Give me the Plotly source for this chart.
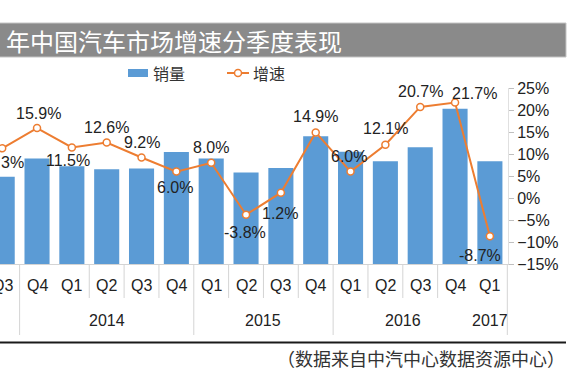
import plotly.graph_objects as go

# ---------------- data ----------------
quarters = ["Q3", "Q4", "Q1", "Q2", "Q3", "Q4", "Q1", "Q2", "Q3", "Q4",
            "Q1", "Q2", "Q3", "Q4", "Q1"]
years = ["2013", "2014", "2015", "2016", "2017"]
year_centers = [-0.45, 3, 7.5, 11.5, 14]          # category index of year label centre
year_dividers = [0.5, 5.5, 9.5, 14.5]
quarter_dividers = [2.5, 3.5, 4.5, 6.5, 7.5, 8.5, 10.5, 11.5, 12.5]

sales = [124, 150, 139, 134.5, 135.5, 159, 150, 130, 136.5, 181.5,
         159.5, 146, 166, 220.5, 146]               # 销量
growth = [11.3, 15.9, 11.5, 12.6, 9.2, 6.0, 8.0, -3.8, 1.2, 14.9,
          6.0, 12.1, 20.7, 21.7, -8.7]              # 增速 (%)

# label offsets in pixels (dx, dy; dy positive = up)
label_offsets = [(0, -14), (1, 15), (-4, -13), (0, 15), (0, 15), (-1, -16),
                 (0, 15), (-1, -18), (-1, -21), (0, 16), (-2, 15), (0, 16),
                 (0, 15), (19, 9), (-10, -19)]

title_text = "年中国汽车市场增速分季度表现"
source_text = "（数据来自中汽中心数据资源中心）"

# ---------------- geometry helpers ----------------
W, H = 570, 380
PL, PT, PW, PH = 0, 88, 508, 176


def xp(px):
    return (px - PL) / PW


def yp(py):
    return (PT + PH - py) / PH


BLUE = "#5B9BD5"
ORANGE = "#ED7D31"
NUM_FONT = "Liberation Sans, Arial, Noto Sans CJK SC, sans-serif"
CJK_FONT = "Noto Sans CJK SC, Liberation Sans, sans-serif"
TXT = "#222222"

idx = list(range(len(quarters)))

fig = go.Figure()
fig.add_trace(go.Bar(x=idx, y=sales, width=0.72, marker=dict(color=BLUE, line=dict(width=0)),
                     name="销量", showlegend=False, yaxis="y"))
fig.add_trace(go.Scatter(x=idx, y=growth, mode="lines+markers", name="增速", showlegend=False,
                         line=dict(color=ORANGE, width=2),
                         marker=dict(size=7, color="white", line=dict(color=ORANGE, width=1.5)),
                         yaxis="y2", cliponaxis=False))

ann = []
# data labels
for i, (v, (dx, dy)) in enumerate(zip(growth, label_offsets)):
    ann.append(dict(x=i, y=v, xref="x", yref="y2", text=f"{v:.1f}%", showarrow=False,
                    xshift=dx, yshift=dy, font=dict(family=NUM_FONT, size=16, color=TXT)))
# quarter labels
for i, q in enumerate(quarters):
    ann.append(dict(x=i, y=yp(285.5), xref="x", yref="paper", text=q, showarrow=False,
                    yanchor="middle", font=dict(family=NUM_FONT, size=16, color=TXT)))
# year labels
for yc, ytxt in zip(year_centers, years):
    ann.append(dict(x=yc, y=yp(320.5), xref="x", yref="paper", text=ytxt, showarrow=False,
                    yanchor="middle", font=dict(family=NUM_FONT, size=16, color=TXT)))
# title
ann.append(dict(x=xp(4), y=yp(40), xref="paper", yref="paper", text=title_text, showarrow=False,
                xanchor="left", yanchor="middle", font=dict(family=CJK_FONT, size=24, color="white")))
# source
ann.append(dict(x=xp(567), y=yp(358), xref="paper", yref="paper", text=source_text, showarrow=False,
                xanchor="right", yanchor="middle", font=dict(family=CJK_FONT, size=18, color="#333333")))
# legend texts
ann.append(dict(x=xp(151), y=yp(73), xref="paper", yref="paper", text="销量", showarrow=False,
                xanchor="left", yanchor="middle", font=dict(family=CJK_FONT, size=16, color="#333333")))
ann.append(dict(x=xp(251), y=yp(73), xref="paper", yref="paper", text="增速", showarrow=False,
                xanchor="left", yanchor="middle", font=dict(family=CJK_FONT, size=16, color="#333333")))

shapes = []
# title bar
shapes.append(dict(type="rect", xref="paper", yref="paper", x0=xp(-2), x1=xp(566), y0=yp(57), y1=yp(23),
                   fillcolor="#8a8a8a", line=dict(color="#c4c4c4", width=1), layer="below"))
# dividers under axis
for d in quarter_dividers:
    shapes.append(dict(type="line", xref="x", yref="paper", x0=d, x1=d, y0=yp(264), y1=yp(298),
                       line=dict(color="#d4d4d4", width=1)))
for d in year_dividers:
    shapes.append(dict(type="line", xref="x", yref="paper", x0=d, x1=d, y0=yp(264), y1=yp(335),
                       line=dict(color="#d4d4d4", width=1)))
# bottom rule
shapes.append(dict(type="line", xref="paper", yref="paper", x0=xp(0), x1=xp(566), y0=yp(342.5), y1=yp(342.5),
                   line=dict(color="#1a1a1a", width=2)))
# legend symbols
shapes.append(dict(type="rect", xref="paper", yref="paper", x0=xp(128), x1=xp(148), y0=yp(77), y1=yp(69),
                   fillcolor=BLUE, line=dict(width=0)))
shapes.append(dict(type="line", xref="paper", yref="paper", x0=xp(227), x1=xp(249), y0=yp(73), y1=yp(73),
                   line=dict(color=ORANGE, width=2)))
shapes.append(dict(type="circle", xref="paper", yref="paper", x0=xp(234.5), x1=xp(241.5), y0=yp(76.5), y1=yp(69.5),
                   fillcolor="white", line=dict(color=ORANGE, width=1.5)))

fig.update_layout(
    width=W, height=H,
    margin=dict(l=PL, r=W - PL - PW, t=PT, b=H - PT - PH, pad=0),
    paper_bgcolor="white", plot_bgcolor="white",
    bargap=0.28,
    xaxis=dict(type="linear", range=[-0.063, 14.52], showticklabels=False, ticks="",
               showgrid=False, zeroline=False, showline=True, linecolor="#d4d4d4", linewidth=1),
    yaxis=dict(range=[0, 250], visible=False, fixedrange=True),
    yaxis2=dict(overlaying="y", side="right", range=[-15, 25], dtick=5, ticksuffix="%",
                showgrid=False, zeroline=False, ticks="outside", ticklen=5, tickcolor="#bfbfbf",
                showline=True, linecolor="#e0e0e0", linewidth=1,
                tickfont=dict(family=NUM_FONT, size=16, color=TXT)),
    annotations=ann, shapes=shapes,
)

fig.write_html("out.html", config={"displayModeBar": False},
               post_script="document.body.style.margin='0px';document.body.style.overflow='hidden';")
